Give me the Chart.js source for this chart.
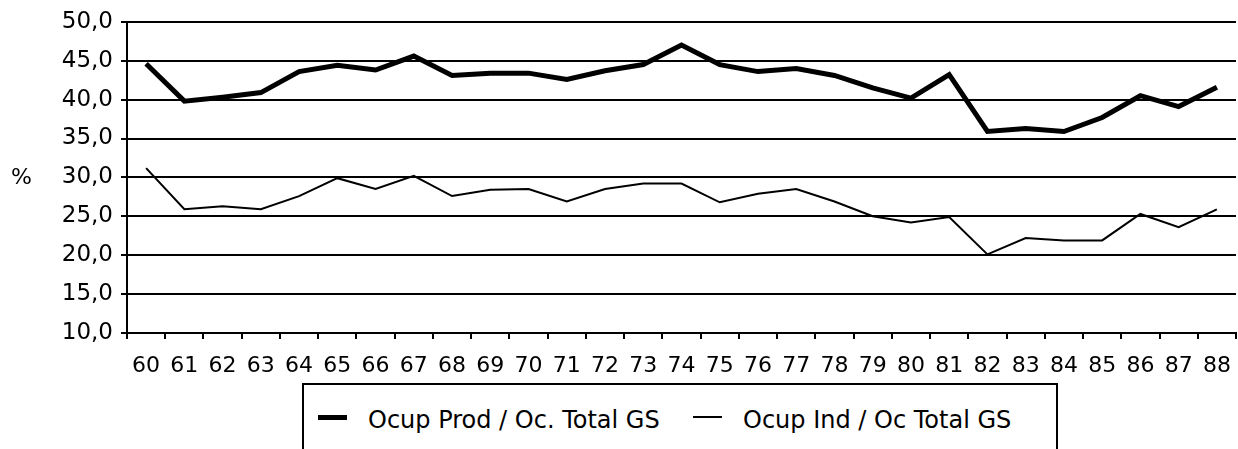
<!DOCTYPE html>
<html>

<head>
    <title>Ocupacion</title>
    <script src="https://cdn.jsdelivr.net/npm/chart.js@4.4.0/dist/chart.umd.min.js"></script>
    <style>
        body { margin: 0; width: 1238px; height: 449px; overflow: hidden; background: #fff; position: relative; }
        #chart { position: absolute; left: 0; top: 0; }
        #legend {
            position: absolute; left: 302px; top: 383px; width: 752px; height: 90px;
            border: 2px solid #000; background: #fff;
            font-family: "DejaVu Sans", sans-serif; font-size: 24px; color: #000;
        }
        .item { position: absolute; top: 20px; height: 30px; display: flex; align-items: center; }
        .swatch { width: 29px; background: #000; margin-right: 21px; margin-top: -6px; }
    </style>
    <script>
        var years = ['60', '61', '62', '63', '64', '65', '66', '67', '68', '69', '70', '71', '72', '73', '74',
            '75', '76', '77', '78', '79', '80', '81', '82', '83', '84', '85', '86', '87', '88'];
        var ocupProd = [44.6, 39.8, 40.3, 40.9, 43.6, 44.4, 43.8, 45.6, 43.1, 43.4, 43.4, 42.6, 43.7, 44.5, 47.0,
            44.5, 43.6, 44.0, 43.1, 41.5, 40.2, 43.2, 35.9, 36.3, 35.9, 37.7, 40.5, 39.1, 41.6];
        var ocupInd = [31.2, 25.9, 26.3, 25.9, 27.6, 29.9, 28.5, 30.2, 27.6, 28.4, 28.5, 26.9, 28.5, 29.2, 29.2,
            26.8, 27.9, 28.5, 26.9, 25.0, 24.2, 24.9, 20.1, 22.2, 21.9, 21.9, 25.3, 23.6, 25.9];
        var seriesNames = ['Ocup Prod / Oc. Total GS', 'Ocup Ind / Oc Total GS'];
        var yMin = 10, yMax = 50, yStep = 5;
        var yUnit = '%';

        var fontName = '"DejaVu Sans", sans-serif';

        // draws the "%" beside the y axis, unrotated
        var unitLabel = {
            id: 'unitLabel',
            afterDraw: function (chart) {
                var ctx = chart.ctx;
                var area = chart.chartArea;
                ctx.save();
                ctx.font = '22px ' + fontName;
                ctx.fillStyle = '#000';
                ctx.textBaseline = 'middle';
                ctx.textAlign = 'left';
                ctx.fillText(yUnit, 11, (area.top + area.bottom) / 2 + 1);
                ctx.restore();
            }
        };

        window.addEventListener('load', function () {
            var chart = new Chart(document.getElementById('chart').getContext('2d'), {
                type: 'line',
                data: {
                    labels: years,
                    datasets: [{
                        label: seriesNames[0],
                        data: ocupProd,
                        borderColor: '#000',
                        borderWidth: 5,
                        pointRadius: 0,
                        tension: 0,
                        fill: false
                    }, {
                        label: seriesNames[1],
                        data: ocupInd,
                        borderColor: '#000',
                        borderWidth: 2,
                        pointRadius: 0,
                        tension: 0,
                        fill: false
                    }]
                },
                options: {
                    responsive: false,
                    animation: false,
                    layout: { padding: { left: 0, right: 2, top: 18, bottom: 76 } },
                    plugins: { legend: { display: false }, tooltip: { enabled: false } },
                    scales: {
                        x: {
                            offset: true,
                            grid: { offset: true, drawOnChartArea: false, drawTicks: true, tickLength: 6, color: '#000', lineWidth: 2 },
                            border: { display: true, color: '#000', width: 2 },
                            ticks: { font: { family: fontName, size: 22 }, color: '#000', padding: 14, maxRotation: 0, autoSkip: false },
                            afterFit: function (scale) {
                                scale.height = 40;
                                scale.paddingLeft = 0;
                                scale.paddingRight = 0;
                            }
                        },
                        y: {
                            min: yMin,
                            max: yMax,
                            grid: { color: '#000', lineWidth: 2, tickLength: 6 },
                            border: { display: true, color: '#000', width: 2 },
                            ticks: {
                                stepSize: yStep,
                                font: { family: fontName, size: 23 },
                                color: '#000',
                                padding: 8,
                                callback: function (v) { return v.toFixed(1).replace('.', ','); }
                            },
                            afterFit: function (scale) { scale.width = 127; }
                        }
                    }
                },
                plugins: [unitLabel]
            });

            // legend box drawn as html below the plot
            var legend = document.getElementById('legend');
            var lefts = [14, 389];
            chart.data.datasets.forEach(function (ds, i) {
                var item = document.createElement('div');
                item.className = 'item';
                item.style.left = lefts[i] + 'px';
                var sw = document.createElement('span');
                sw.className = 'swatch';
                sw.style.height = ds.borderWidth + 'px';
                var txt = document.createElement('span');
                txt.textContent = ds.label;
                item.appendChild(sw);
                item.appendChild(txt);
                legend.appendChild(item);
            });
        });
    </script>
</head>

<body>
    <canvas id="chart" width="1238" height="449"></canvas>
    <div id="legend"></div>
</body>

</html>
